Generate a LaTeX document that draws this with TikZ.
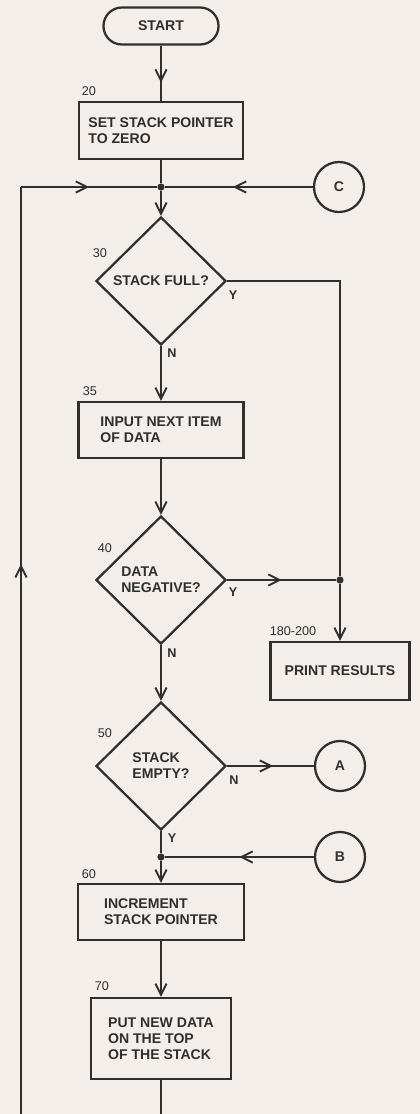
\documentclass[tikz,border=0pt]{standalone}
\usepackage{fontspec}
\setmainfont{Liberation Sans}
\usetikzlibrary{shapes.geometric,arrows.meta,decorations.markings}
\definecolor{paper}{HTML}{F3EEE9}
\definecolor{ink}{HTML}{2F2F2F}
\tikzset{
  tipstyle/.tip={Straight Barb[length=2.8mm,width=2.8mm]},
  flow/.style={draw=ink,line width=1.35pt},
  endarr/.style={flow,-{tipstyle}},
  midarr/.style={flow,postaction={decorate,decoration={markings,mark=at position #1 with {\arrow{tipstyle}}}}},
  boxtext/.style={font=\fontsize{10}{11.4}\selectfont\bfseries,text=ink,align=left},
  stepbox/.style={boxtext,draw=ink,line width=1.6pt,rectangle,inner sep=0pt},
  decision/.style={boxtext,draw=ink,line width=1.6pt,diamond,inner sep=0pt,minimum width=3.25cm,minimum height=3.2cm},
  termnode/.style={boxtext,draw=ink,line width=1.6pt,rectangle,rounded corners=0.46cm,minimum width=2.875cm,minimum height=0.925cm},
  connector/.style={boxtext,draw=ink,line width=1.6pt,circle,minimum size=1.25cm,inner sep=0pt},
  dot/.style={circle,fill=ink,minimum size=0.18cm,inner sep=0pt},
  numlabel/.style={font=\fontsize{9}{10}\selectfont,text=ink,inner sep=0pt},
  yn/.style={font=\fontsize{9}{10}\selectfont\bfseries,text=ink,inner sep=0pt}
}
\begin{document}
\begin{tikzpicture}[x=0.025cm,y=-0.025cm]
\useasboundingbox (0,0) rectangle (420,1114);
\fill[paper] (0,0) rectangle (420,1114);

% nodes
\node[termnode] (start) at (161,26) {START};
\node[stepbox,minimum width=4.1cm,minimum height=1.425cm] (b20) at (161,130.5) {SET STACK POINTER\\TO ZERO};
\node[dot] (j1) at (161,187) {};
\node[connector] (C) at (339,187) {C};
\node[decision] (d30) at (161,281) {STACK FULL?};
\node[stepbox,minimum width=4.125cm,minimum height=1.4cm] (b35) at (161,430) {INPUT NEXT ITEM\\OF DATA};
\node[decision] (d40) at (161,580) {DATA\\NEGATIVE?};
\node[dot] (j2) at (340,580) {};
\node[stepbox,minimum width=3.475cm,minimum height=1.45cm] (print) at (340,671) {PRINT RESULTS};
\node[decision] (d50) at (161,766) {STACK\\EMPTY?};
\node[connector] (A) at (340,766) {A};
\node[dot] (j3) at (161,857) {};
\node[connector] (B) at (340,857) {B};
\node[stepbox,minimum width=4.15cm,minimum height=1.4cm] (b60) at (161,912) {INCREMENT\\STACK POINTER};
\node[stepbox,minimum width=3.5cm,minimum height=2.025cm] (b70) at (161,1038.5) {PUT NEW DATA\\ON THE TOP\\OF THE STACK};

% line numbers
\node[numlabel] (n20) at (89,91) {20};
\node[numlabel] (n30) at (100,253) {30};
\node[numlabel] (n35) at (90,391) {35};
\node[numlabel] (n40) at (105,548) {40};
\node[numlabel] (n50) at (105,733) {50};
\node[numlabel] (n60) at (89,874) {60};
\node[numlabel] (n70) at (102,986) {70};
\node[numlabel] (n180) at (293,631) {180-200};

% Y / N labels
\node[yn] (y30) at (233,295) {Y};
\node[yn] (n30b) at (172,353) {N};
\node[yn] (y40) at (233,592) {Y};
\node[yn] (n40b) at (172,653) {N};
\node[yn] (n50b) at (234,780) {N};
\node[yn] (y50) at (172,838) {Y};

% coordinates for the loop
\coordinate (lb) at (161,1130);
\coordinate (lbl) at (21,1130);
\coordinate (lt) at (21,187);

% connectors
\draw[midarr=0.67] (start.south) -- (b20.north);
\draw[flow] (b20.south) -- (j1);
\draw[endarr] (j1) -- (d30.north);
\draw[midarr=0.54] (C.west) -- (j1);
\draw[flow] (b70.south) -- (lb) -- (lbl);
\draw[midarr=0.6] (lbl) -- (lt);
\draw[midarr=0.5] (lt) -- (j1);
\draw[endarr] (d30.south) -- (b35.north);
\draw[endarr] (b35.south) -- (d40.north);
\draw[flow] (d30.east) -| (j2);
\draw[endarr] (j2) -- (print.north);
\draw[midarr=0.5] (d40.east) -- (j2);
\draw[endarr] (d40.south) -- (d50.north);
\draw[midarr=0.53] (d50.east) -- (A.west);
\draw[flow] (d50.south) -- (j3);
\draw[endarr] (j3) -- (b60.north);
\draw[midarr=0.5] (B.west) -- (j3);
\draw[endarr] (b60.south) -- (b70.north);
\end{tikzpicture}
\end{document}
